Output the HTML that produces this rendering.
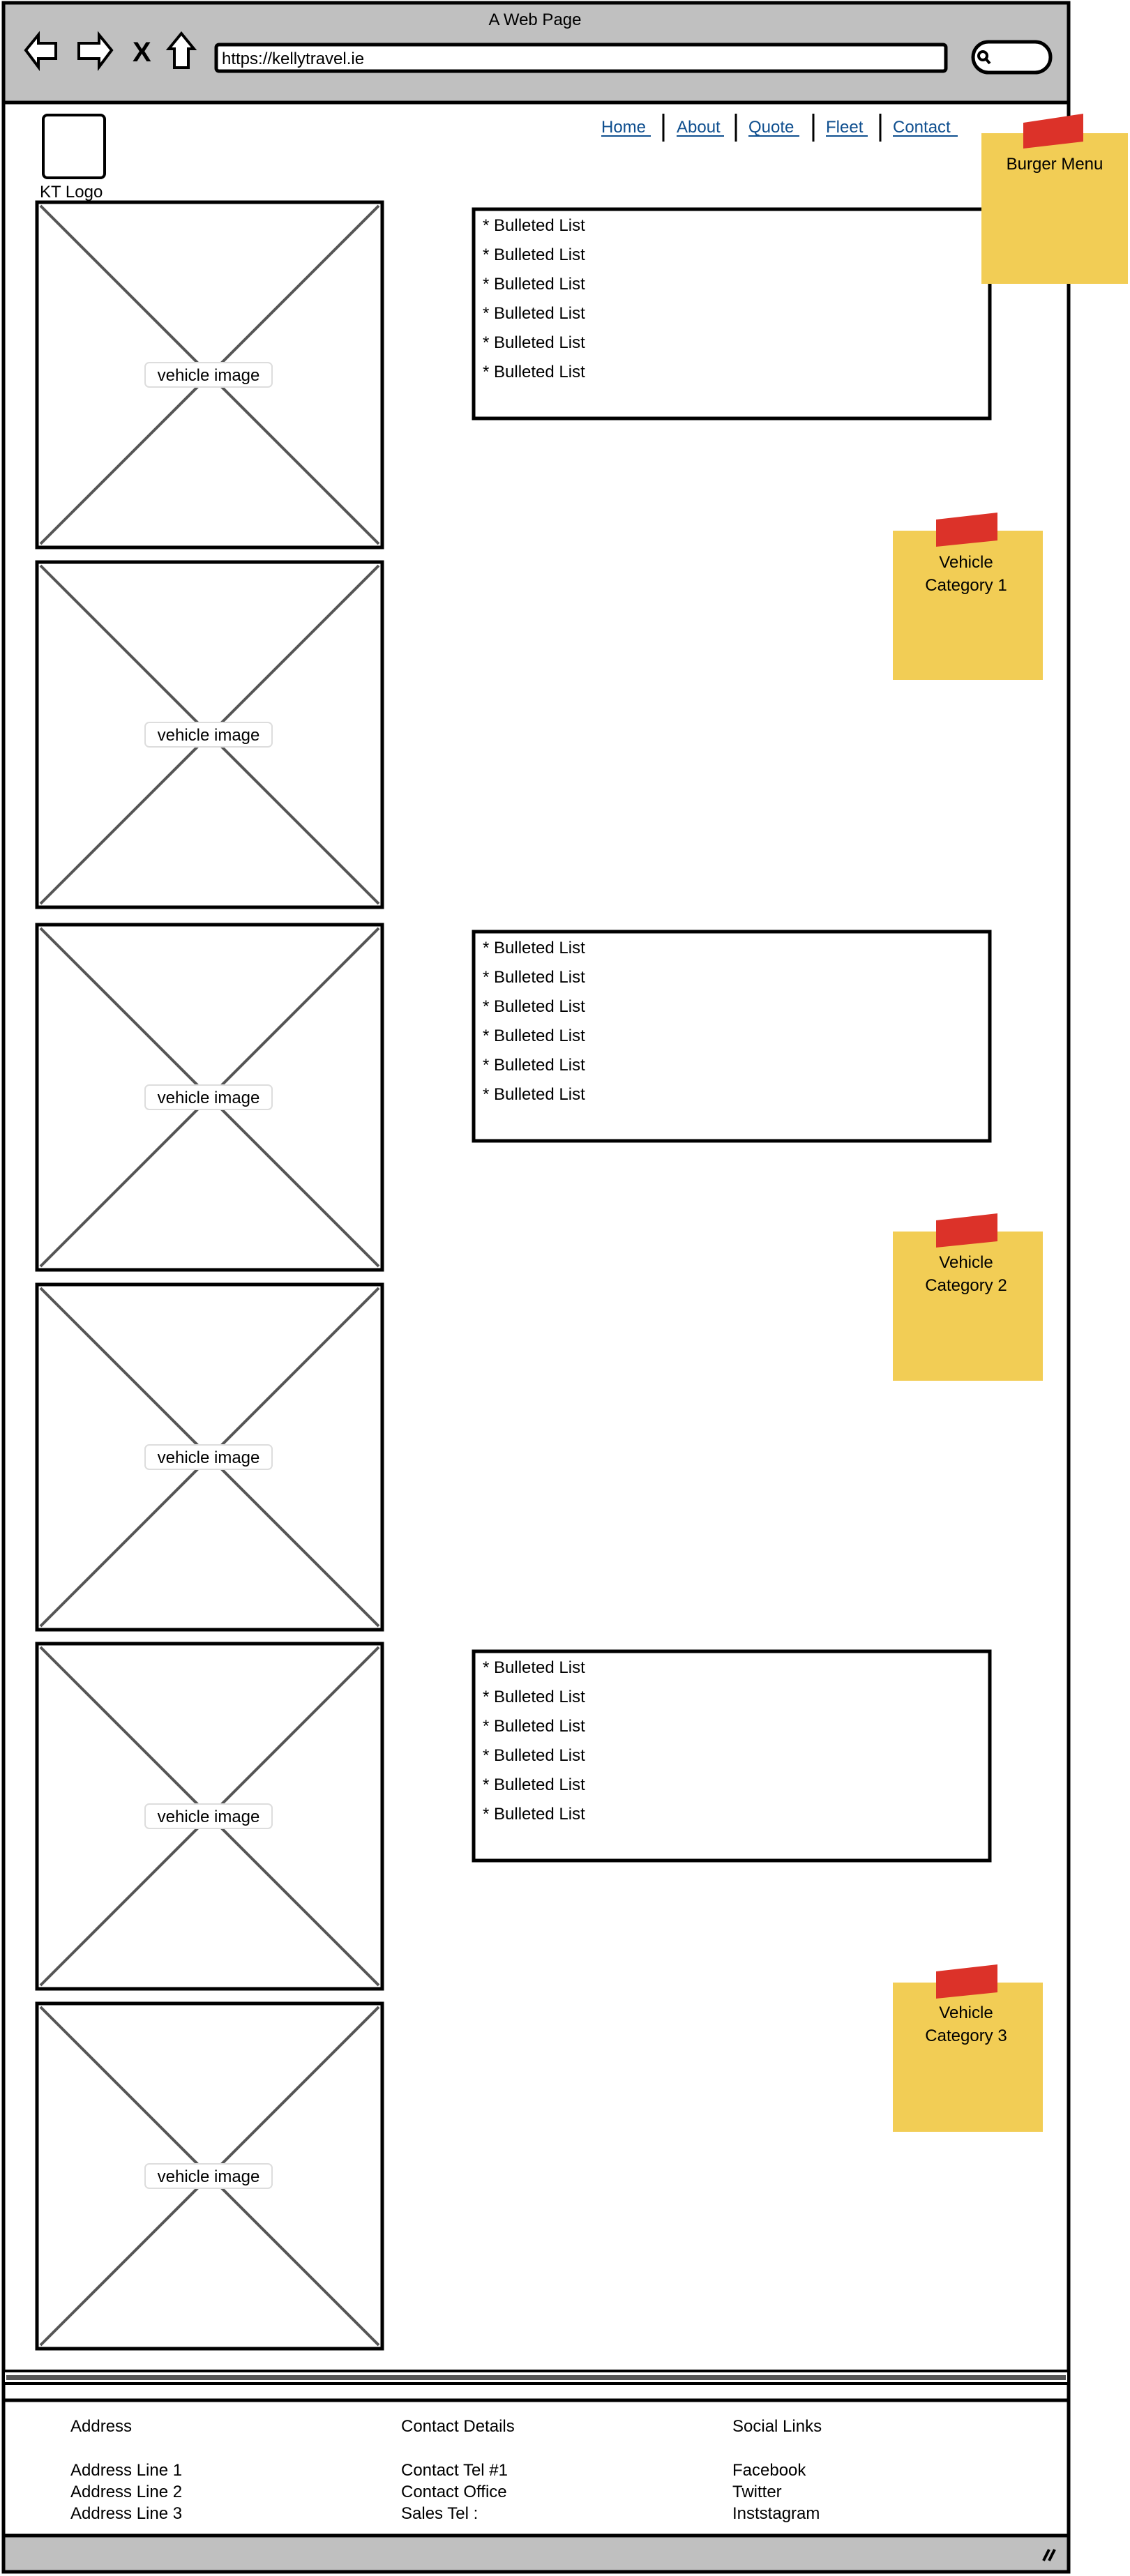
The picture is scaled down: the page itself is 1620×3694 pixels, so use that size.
<!DOCTYPE html>
<html><head><meta charset="utf-8"><style>
html,body{margin:0;padding:0;background:#fff;}
svg{display:block;}
text{font-family:"Liberation Sans Narrow","Liberation Sans",sans-serif;font-size:24px;fill:#000;}
</style></head><body>
<svg width="1620" height="3694" viewBox="0 0 1620 3694" xmlns="http://www.w3.org/2000/svg">
<!-- browser frame -->
<rect x="5" y="4" width="1527" height="3684" fill="#fff" stroke="#000" stroke-width="5"/>
<rect x="5" y="4" width="1527" height="143" fill="#c0c0c0" stroke="#000" stroke-width="5"/>
<text x="767" y="36" text-anchor="middle">A Web Page</text>
<!-- nav icons -->
<path d="M37,72 L55,50 L55,62 L80,62 L80,84 L55,84 L55,96 Z" fill="#fff" stroke="#000" stroke-width="4"/>
<path d="M160,72 L142,50 L142,62 L113,62 L113,84 L142,84 L142,96 Z" fill="#fff" stroke="#000" stroke-width="4"/>
<text x="190" y="88" style="font-size:40px;font-weight:bold">X</text>
<path d="M260,48 L278,70 L270,70 L270,97 L250,97 L250,70 L242,70 Z" fill="#fff" stroke="#000" stroke-width="4"/>
<rect x="310" y="64" width="1046" height="38" rx="4" fill="#fff" stroke="#000" stroke-width="5"/>
<text x="318" y="92">https://kellytravel.ie</text>
<rect x="1395" y="60" width="111" height="44" rx="22" fill="#fff" stroke="#000" stroke-width="5"/>
<circle cx="1409" cy="80" r="6" fill="none" stroke="#000" stroke-width="4"/>
<line x1="1413" y1="84" x2="1419" y2="91" stroke="#000" stroke-width="4"/>
<!-- nav links -->
<g style="fill:#0f4f8f">
<text x="862" y="190" style="fill:#0f4f8f">Home</text>
<text x="970" y="190" style="fill:#0f4f8f">About</text>
<text x="1073" y="190" style="fill:#0f4f8f">Quote</text>
<text x="1184" y="190" style="fill:#0f4f8f">Fleet</text>
<text x="1280" y="190" style="fill:#0f4f8f">Contact</text>
</g>
<g stroke="#0f4f8f" stroke-width="2">
<line x1="862" y1="195" x2="933" y2="195"/><line x1="970" y1="195" x2="1038" y2="195"/>
<line x1="1073" y1="195" x2="1146" y2="195"/><line x1="1184" y1="195" x2="1244" y2="195"/>
<line x1="1280" y1="195" x2="1373" y2="195"/>
</g>
<g stroke="#000" stroke-width="3">
<line x1="951" y1="163" x2="951" y2="203"/><line x1="1055" y1="163" x2="1055" y2="203"/>
<line x1="1166" y1="163" x2="1166" y2="203"/><line x1="1262" y1="163" x2="1262" y2="203"/>
</g>
<!-- logo -->
<rect x="62" y="165" width="88" height="90" rx="6" fill="#fff" stroke="#000" stroke-width="4"/>
<text x="57" y="283">KT Logo</text>
<!-- image boxes -->
<g id="imgs">
<g transform="translate(0,0)">
<rect x="53" y="290" width="495" height="495" fill="#fff" stroke="#000" stroke-width="5"/>
<line x1="58" y1="295" x2="543" y2="780" stroke="#555" stroke-width="4"/><line x1="543" y1="295" x2="58" y2="780" stroke="#555" stroke-width="4"/>
<rect x="208" y="520" width="182" height="35" rx="6" fill="#fff" stroke="#ddd" stroke-width="2"/>
<text x="299" y="546" text-anchor="middle">vehicle image</text>
</g>
</g>
<use href="#imgs" y="516"/>
<use href="#imgs" y="1036"/>
<use href="#imgs" y="1552"/>
<use href="#imgs" y="2067"/>
<use href="#imgs" y="2583"/>
<!-- bulleted lists -->
<g id="list">
<rect x="679" y="300" width="740" height="300" fill="#fff" stroke="#000" stroke-width="5"/>
<text x="692" y="331">* Bulleted List</text>
<text x="692" y="373">* Bulleted List</text>
<text x="692" y="415">* Bulleted List</text>
<text x="692" y="457">* Bulleted List</text>
<text x="692" y="499">* Bulleted List</text>
<text x="692" y="541">* Bulleted List</text>
</g>
<use href="#list" y="1036"/>
<use href="#list" y="2068"/>
<!-- stickies -->
<rect x="1407" y="191" width="210" height="216" fill="#f2cd55"/>
<path d="M1467,176 L1553,163 L1553,203 L1467,213 Z" fill="#dc3229"/>
<text x="1512" y="243" text-anchor="middle">Burger Menu</text>
<g id="st">
<rect x="1280" y="761" width="215" height="214" fill="#f2cd55"/>
<path d="M1342,745 L1430,735 L1430,775 L1342,784 Z" fill="#dc3229"/>
</g>
<text x="1385" y="814" text-anchor="middle">Vehicle</text>
<text x="1385" y="847" text-anchor="middle">Category 1</text>
<use href="#st" y="1005"/>
<text x="1385" y="1818" text-anchor="middle">Vehicle</text>
<text x="1385" y="1851" text-anchor="middle">Category 2</text>
<use href="#st" y="2082"/>
<text x="1385" y="2894" text-anchor="middle">Vehicle</text>
<text x="1385" y="2927" text-anchor="middle">Category 3</text>
<!-- footer -->
<rect x="5" y="3400" width="1527" height="18" fill="#fff" stroke="#000" stroke-width="4"/>
<rect x="9" y="3406" width="1519" height="7" fill="#555"/>
<line x1="5" y1="3442" x2="1532" y2="3442" stroke="#000" stroke-width="5"/>
<text x="101" y="3487">Address</text>
<text x="575" y="3487">Contact Details</text>
<text x="1050" y="3487">Social Links</text>
<text x="101" y="3550">Address Line 1</text>
<text x="101" y="3581">Address Line 2</text>
<text x="101" y="3612">Address Line 3</text>
<text x="575" y="3550">Contact Tel #1</text>
<text x="575" y="3581">Contact Office</text>
<text x="575" y="3612">Sales Tel :</text>
<text x="1050" y="3550">Facebook</text>
<text x="1050" y="3581">Twitter</text>
<text x="1050" y="3612">Inststagram</text>
<rect x="5" y="3636" width="1527" height="52" fill="#c0c0c0" stroke="#000" stroke-width="5"/>
<path d="M1496,3672 L1504,3656 M1504,3672 L1512,3656" stroke="#000" stroke-width="4"/>
</svg>
</body></html>
